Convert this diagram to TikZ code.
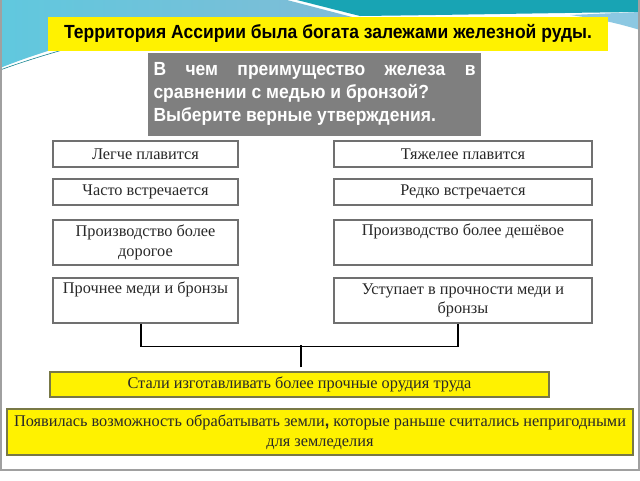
\documentclass[tikz,border=0pt]{standalone}
\usepackage{fontspec}
\setmainfont{Liberation Serif}
\newfontfamily\sansf{Liberation Sans}
\usetikzlibrary{calc}
\definecolor{boxgray}{RGB}{112,112,112}
\definecolor{textc}{RGB}{40,40,40}
\definecolor{ybord}{RGB}{120,120,70}
\definecolor{qgray}{RGB}{127,127,127}
\definecolor{lblueA}{RGB}{96,200,222}
\definecolor{lblueB}{RGB}{128,188,214}
\definecolor{tealc}{RGB}{24,164,180}
\definecolor{stripec}{RGB}{140,200,226}
\definecolor{framec}{RGB}{160,160,160}
\begin{document}
\begin{tikzpicture}[x=1pt,y=-1pt,
  box/.style={draw=boxgray, line width=1.2pt, fill=white, inner sep=0pt, align=center,
    text=textc, font=\fontsize{16.3}{19.5}\selectfont},
  ybox/.style={draw=ybord, line width=1.2pt, fill=yellow, inner sep=0pt, align=center,
    text=textc, font=\fontsize{16.3}{19.5}\selectfont},
  conn/.style={draw=black, line width=1.5pt}]
\useasboundingbox (0,0) rectangle (640,480);
\fill[white] (0,0) rectangle (640,480);
% background swooshes
\shade[left color=lblueA, right color=lblueB] (0,0) -- (287,0) -- (352,17) -- (200,17)
  .. controls (120,28) and (50,48) .. (0,68) -- cycle;
\draw[tealc!80!black, line width=0.6pt] (0,70) .. controls (50,52) and (120,32) .. (210,19);
\fill[tealc] (297,0) -- (640,0) -- (640,12) .. controls (550,13) and (450,15) .. (360,16) -- cycle;
\fill[stripec] (640,12) -- (640,30) .. controls (620,24) and (600,19) .. (570,15) -- cycle;
\draw[framec, line width=1.5pt] (1,0) -- (1,470) -- (639,470) -- (639,0);
% title
\node[fill=yellow, minimum width=560pt, minimum height=34pt, inner sep=0pt,
  font=\sansf\bfseries\fontsize{19}{22}\selectfont] (T) at (328,33.5)
  {\scalebox{0.92}[1]{Территория Ассирии была богата залежами железной руды.}};
\node[fill=qgray, minimum width=333pt, minimum height=83pt, inner sep=0pt, text=white,
  font=\sansf\bfseries\fontsize{19}{23}\selectfont] (Q) at (314.5,94)
  {\scalebox{0.92}[1]{\parbox{350pt}{\noindent\hbox to 350pt{В\hfill чем\hfill преимущество\hfill железа\hfill в}\\сравнении с медью и бронзой?\\Выберите верные утверждения.}}};
% left column
\node[box, minimum width=185pt, minimum height=26pt] (L1) at (145.5,154) {Легче плавится};
\node[box, minimum width=185pt, minimum height=26pt] (L2) at (145.5,192) {Часто встречается};
\node[box, minimum width=185pt, minimum height=45pt] (L3) at (145.5,242.5) {Производство более\\дорогое};
\node[box, minimum width=185pt, minimum height=45pt] (L4) at (145.5,300.5) {Прочнее меди и бронзы\\\strut};
% right column
\node[box, minimum width=258pt, minimum height=26pt] (R1) at (463,154) {Тяжелее плавится};
\node[box, minimum width=258pt, minimum height=26pt] (R2) at (463,192) {Редко встречается};
\node[box, minimum width=258pt, minimum height=45pt] (R3) at (463,242.5) {Производство более дешёвое\\\strut};
\node[box, minimum width=258pt, minimum height=45pt] (R4) at (463,300.5) {Уступает в прочности меди и\\бронзы};
% conclusions
\node[ybox, minimum width=499pt, minimum height=25pt] (Y1) at (299.5,384.5)
  {Стали изготавливать более прочные орудия труда};
\node[ybox, minimum width=626pt, minimum height=46pt] (Y2) at (320,432)
  {Появилась возможность обрабатывать земли{\sansf\bfseries ,} которые раньше считались непригодными\\для земледелия};
% connectors
\draw[conn] ([xshift=-4.5pt]L4.south) -- ++(0,23) -| ([xshift=-5pt]R4.south);
\draw[conn] ([xshift=1.5pt,yshift=4pt]Y1.north) -- ++(0,-22);
\end{tikzpicture}
\end{document}
